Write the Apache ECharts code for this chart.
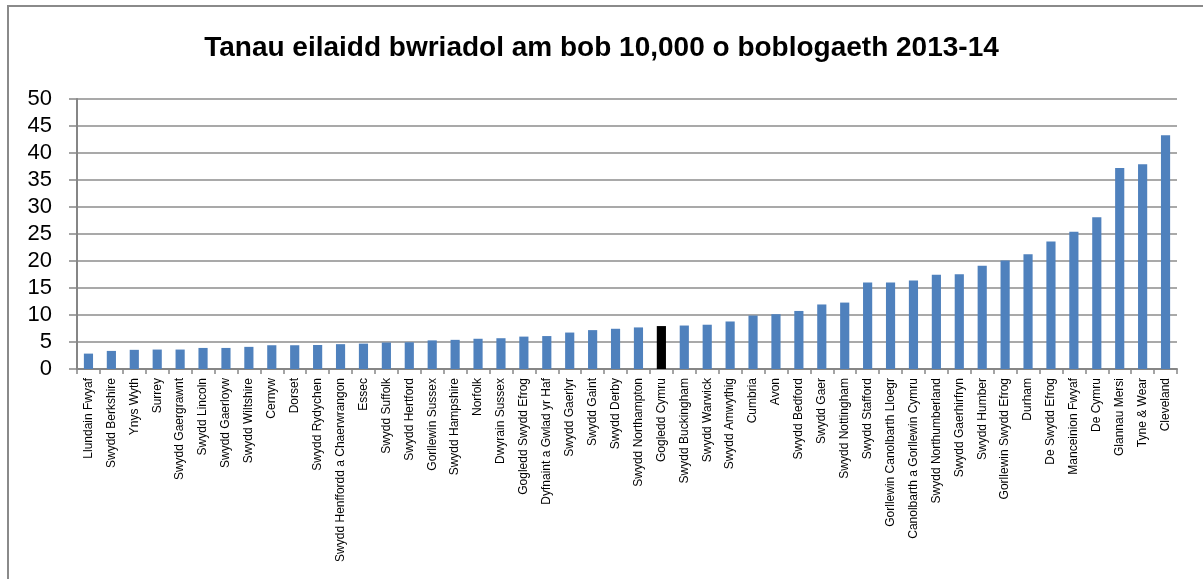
<!DOCTYPE html>
<html>
<head>
<meta charset="utf-8">
<script src="https://cdn.jsdelivr.net/npm/echarts@6/dist/echarts.min.js"></script>
<style>
html,body{margin:0;padding:0;background:#fff;}
#chart{width:1203px;height:579px;}
</style>
</head>
<body>
<div id="chart"></div>
<script>
const titleText = 'Tanau eilaidd bwriadol am bob 10,000 o boblogaeth 2013-14';
const categories = ['Llundain Fwyaf','Swydd Berkshire','Ynys Wyth','Surrey','Swydd Gaergrawnt','Swydd Lincoln','Swydd Gaerloyw','Swydd Wiltshire','Cernyw','Dorset','Swydd Rydychen','Swydd Henffordd a Chaerwrangon','Essec','Swydd Suffolk','Swydd Hertford','Gorllewin Sussex','Swydd Hampshire','Norfolk','Dwyrain Sussex','Gogledd Swydd Efrog','Dyfnaint a Gwlad yr Haf','Swydd Gaerlyr','Swydd Gaint','Swydd Derby','Swydd Northampton','Gogledd Cymru','Swydd Buckingham','Swydd Warwick','Swydd Amwythig','Cumbria','Avon','Swydd Bedford','Swydd Gaer','Swydd Nottingham','Swydd Stafford','Gorllewin Canolbarth Lloegr','Canolbarth a Gorllewin Cymru','Swydd Northumberland','Swydd Gaerhirfryn','Swydd Humber','Gorllewin Swydd Efrog','Durham','De Swydd Efrog','Manceinion Fwyaf','De Cymru','Glannau Mersi','Tyne & Wear','Cleveland'];
const values = [2.85,3.35,3.55,3.6,3.6,3.9,3.9,4.1,4.4,4.4,4.45,4.6,4.7,4.9,4.95,5.3,5.4,5.6,5.7,6.0,6.1,6.75,7.2,7.45,7.7,7.95,8.05,8.2,8.8,9.9,10.15,10.75,11.95,12.3,16.0,16.0,16.4,17.45,17.55,19.1,20.1,21.25,23.6,25.4,28.1,37.2,37.9,43.3];
const highlightCategory = 'Gogledd Cymru';
const yMin = 0, yMax = 50, yStep = 5;

const chart = echarts.init(document.getElementById('chart'));
chart.setOption({
  animation: false,
  backgroundColor: '#fff',
  title: {
    text: titleText,
    left: 'center',
    top: 29,
    textStyle: {fontFamily: 'Liberation Sans', fontWeight: 'bold', fontSize: 28, color: '#000'}
  },
  graphic: [{
    type: 'polyline',
    shape: {points: [[8, 579], [8, 6], [1203, 6]]},
    style: {stroke: '#8a8a8a', lineWidth: 2, fill: null},
    silent: true
  }],
  grid: {left: 77, right: 26, top: 99, bottom: 210, containLabel: false},
  xAxis: {
    type: 'category',
    data: categories,
    axisLine: {lineStyle: {color: '#868686', width: 2}},
    axisTick: {show: true, alignWithLabel: false, length: 5, lineStyle: {color: '#868686', width: 1.5}},
    axisLabel: {rotate: 90, interval: 0, margin: 9, fontFamily: 'Liberation Sans', fontSize: 12, color: '#000'}
  },
  yAxis: {
    type: 'value',
    min: yMin, max: yMax, interval: yStep,
    axisLine: {show: true, lineStyle: {color: '#868686', width: 2}},
    axisTick: {show: true, length: 8, lineStyle: {color: '#868686', width: 1.5}},
    splitLine: {show: true, lineStyle: {color: '#8c8c8c', width: 1.5}},
    axisLabel: {margin: 25, fontFamily: 'Liberation Sans', fontSize: 22, color: '#000'}
  },
  series: [{
    type: 'bar',
    data: values,
    barCategoryGap: '60%',
    itemStyle: {
      color: function (p) { return categories[p.dataIndex] === highlightCategory ? '#000000' : '#4F81BD'; }
    }
  }]
});
</script>
</body>
</html>
